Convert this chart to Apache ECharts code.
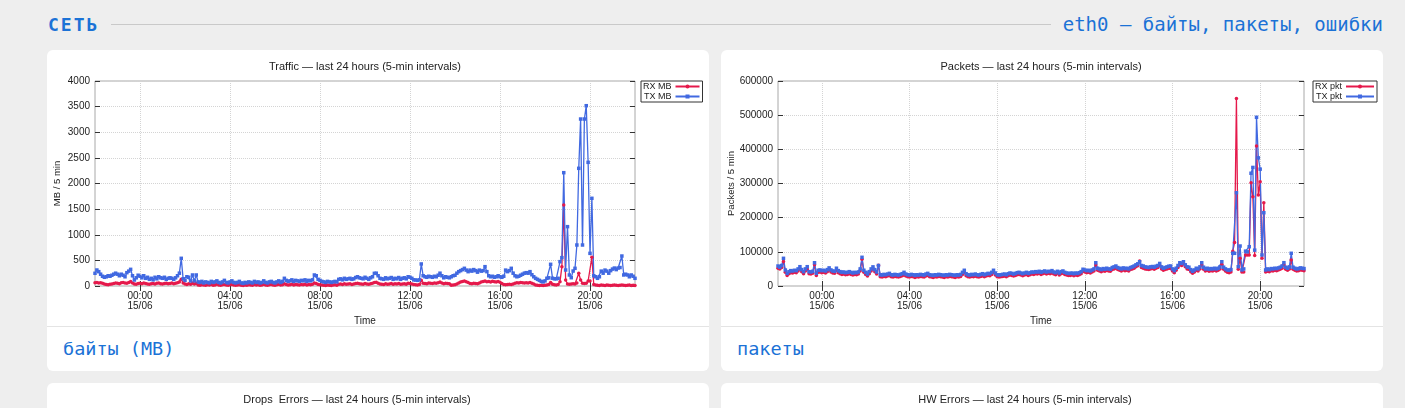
<!DOCTYPE html>
<html>
<head>
<meta charset="utf-8">
<title>Сеть — eth0</title>
<script src="https://cdn.jsdelivr.net/npm/echarts@6/dist/echarts.min.js"></script>
<style>
    body {
        margin: 0;
        background: #eeeeee;
        font-family: "DejaVu Sans Mono", monospace;
    }
    .wrap {
        padding: 0 22px 0 47px;
    }
    .head {
        height: 48px;
        display: flex;
        align-items: center;
        margin-bottom: 2px;
    }
    .head .name {
        margin-left: 1px;
        font-size: 18px;
        font-weight: bold;
        letter-spacing: 2px;
        color: #1b72d6;
    }
    .head .rule {
        flex: 1;
        height: 1px;
        background: #c9c9c9;
        margin: 0 12px 0 12px;
    }
    .head .sub {
        font-size: 19px;
        color: #1b72d6;
    }
    .row {
        display: flex;
        gap: 12px;
        margin-bottom: 12px;
    }
    .card {
        width: 662px;
        background: #fff;
        border-radius: 6px;
        overflow: hidden;
    }
    .chart {
        height: 276px;
    }
    .cap {
        border-top: 1px solid #e4e4e4;
        height: 44px;
        line-height: 44px;
        padding-left: 16px;
        font-size: 18.5px;
        color: #1b72d6;
    }
</style>
</head>
<body>
<div class="wrap">
    <div class="head">
        <span class="name">СЕТЬ</span>
        <span class="rule"></span>
        <span class="sub">eth0 — байты, пакеты, ошибки</span>
    </div>
    <div class="row">
        <div class="card">
            <div class="chart traffic-stat"></div>
            <div class="cap">байты (MB)</div>
        </div>
        <div class="card">
            <div class="chart packets-stat"></div>
            <div class="cap">пакеты</div>
        </div>
    </div>
    <div class="row">
        <div class="card">
            <div class="chart drops-stat"></div>
        </div>
        <div class="card">
            <div class="chart hw-stat"></div>
        </div>
    </div>
</div>

<script>
// 5-min samples, 14/06 22:00 -> 15/06 22:00
let startMinute = -120;
let stepMinutes = 5;

// Traffic, MB per 5 min
let rxMB = [
    65, 70, 60, 65, 55, 40, 30, 25, 35, 40,
    50, 60, 55, 45, 65, 70, 60, 55, 70, 90,
    60, 40, 35, 50, 55, 45, 60, 50, 40, 35,
    45, 50, 40, 55, 60, 45, 40, 50, 55, 45,
    50, 60, 45, 55, 65, 80, 130, 60, 40, 30,
    45, 35, 60, 40, 55, 20, 15, 25, 20, 15,
    25, 20, 30, 15, 20, 35, 20, 15, 25, 30,
    20, 15, 25, 30, 20, 15, 20, 25, 15, 10,
    20, 15, 25, 20, 15, 30, 20, 25, 15, 20,
    35, 20, 15, 25, 30, 20, 15, 25, 35, 20,
    25, 45, 30, 20, 25, 35, 20, 30, 25, 20,
    30, 25, 35, 20, 30, 25, 35, 60, 50, 30,
    25, 20, 15, 10, 20, 15, 10, 20, 25, 15,
    35, 40, 30, 45, 35, 40, 45, 30, 40, 50,
    55, 45, 40, 35, 50, 40, 35, 45, 55, 70,
    75, 55, 40, 35, 30, 45, 35, 40, 50, 35,
    45, 40, 50, 35, 40, 45, 35, 55, 50, 40,
    30, 25, 20, 30, 110, 55, 50, 45, 60, 55,
    50, 60, 55, 65, 80, 60, 45, 55, 50, 45,
    15, 20, 25, 40, 60, 80, 90, 98, 85, 70,
    50, 45, 55, 50, 45, 60, 80, 90, 98, 85,
    90, 80, 95, 85, 80, 90, 75, 50, 30, 25,
    30, 35, 30, 40, 55, 65, 60, 70, 65, 60,
    65, 60, 70, 55, 40, 20, 15, 10, 15, 10,
    15, 20, 30, 70, 35, 25, 20, 30, 85, 377,
    1580, 117, 40, 35, 40, 45, 40, 60, 247, 117,
    55, 50, 55, 98, 100, 560, 30, 20, 15, 10,
    20, 15, 10, 20, 15, 10, 15, 20, 15, 10,
    15, 20, 15, 10, 15, 20, 10, 15, 10
];
let txMB = [
    248, 312, 280, 230, 190, 170, 180, 200, 190, 210,
    230, 250, 230, 200, 230, 210, 180, 260, 290, 325,
    200, 117, 160, 210, 190, 160, 200, 150, 170, 130,
    150, 120, 170, 140, 180, 160, 150, 170, 130, 150,
    160, 150, 130, 160, 200, 250, 540, 140, 110, 180,
    170, 100, 215, 100, 215, 80, 70, 90, 60, 80,
    70, 60, 90, 70, 80, 100, 70, 60, 80, 110,
    70, 60, 80, 100, 70, 60, 70, 90, 60, 50,
    70, 60, 80, 70, 60, 90, 70, 80, 60, 70,
    100, 70, 60, 80, 90, 70, 60, 80, 100, 70,
    90, 150, 110, 90, 100, 120, 90, 110, 100, 90,
    110, 100, 120, 90, 110, 100, 120, 215, 200, 130,
    110, 90, 80, 70, 90, 80, 70, 80, 90, 80,
    130, 140, 120, 150, 130, 140, 150, 130, 140, 165,
    180, 160, 150, 140, 170, 150, 130, 160, 180, 247,
    250, 200, 150, 140, 130, 160, 140, 150, 165, 130,
    150, 140, 165, 130, 150, 160, 140, 180, 170, 150,
    120, 117, 110, 120, 430, 200, 180, 170, 190, 180,
    170, 190, 180, 210, 250, 200, 160, 180, 170, 160,
    180, 200, 210, 250, 280, 300, 320, 345, 310, 280,
    310, 290, 320, 300, 270, 310, 290, 300, 377, 280,
    200, 180, 190, 170, 180, 200, 180, 170, 190, 310,
    280, 300, 345, 250, 200, 180, 190, 210, 230, 250,
    260, 250, 280, 220, 180, 150, 130, 110, 90, 80,
    100, 150, 160, 423, 152, 140, 140, 150, 475, 553,
    2211, 312, 1158, 215, 162, 292, 345, 800, 2296, 3258,
    800, 3258, 3518, 2413, 637, 1711, 200, 180, 150, 180,
    290, 250, 310, 290, 250, 300, 330, 350, 320, 350,
    360, 585, 215, 230, 215, 180, 215, 190, 150
];

// Packets per 5 min
let rxPkt = [
    52000, 50000, 54000, 72000, 40000, 31000, 36000, 39000, 38000, 40000,
    39000, 44000, 50000, 42000, 36000, 44000, 50000, 36000, 35000, 37000,
    62000, 31000, 40000, 41000, 39000, 40000, 38000, 42000, 47000, 41000,
    38000, 37000, 46000, 39000, 36000, 34000, 35000, 33000, 34000, 36000,
    34000, 32000, 34000, 33000, 35000, 44000, 78000, 40000, 34000, 29000,
    36000, 44000, 50000, 42000, 35000, 61000, 27000, 26000, 28000, 27000,
    29000, 31000, 27000, 26000, 28000, 27000, 26000, 28000, 30000, 34000,
    29000, 27000, 26000, 28000, 27000, 25000, 27000, 26000, 28000, 27000,
    26000, 29000, 31000, 27000, 26000, 25000, 27000, 26000, 28000, 27000,
    26000, 25000, 27000, 26000, 28000, 27000, 26000, 25000, 27000, 26000,
    28000, 34000, 40000, 30000, 27000, 26000, 28000, 27000, 29000, 27000,
    26000, 28000, 30000, 27000, 29000, 31000, 30000, 34000, 40000, 32000,
    27000, 26000, 27000, 28000, 29000, 27000, 30000, 32000, 31000, 29000,
    31000, 33000, 34000, 32000, 30000, 32000, 34000, 31000, 33000, 35000,
    34000, 36000, 35000, 37000, 34000, 36000, 38000, 35000, 37000, 36000,
    39000, 35000, 33000, 37000, 32000, 36000, 38000, 34000, 32000, 31000,
    31000, 32000, 30000, 32000, 31000, 33000, 36000, 43000, 41000, 39000,
    40000, 38000, 41000, 44000, 62000, 46000, 44000, 42000, 45000, 43000,
    46000, 44000, 43000, 48000, 50000, 52000, 48000, 46000, 44000, 47000,
    45000, 46000, 44000, 48000, 50000, 52000, 56000, 59000, 73000, 54000,
    52000, 50000, 49000, 48000, 50000, 51000, 49000, 52000, 54000, 60000,
    50000, 46000, 48000, 50000, 52000, 52000, 44000, 39000, 46000, 54000,
    62000, 60000, 65000, 56000, 50000, 49000, 42000, 37000, 41000, 46000,
    44000, 50000, 62000, 49000, 44000, 46000, 43000, 45000, 44000, 46000,
    44000, 46000, 50000, 64000, 49000, 44000, 40000, 39000, 41000, 102000,
    127000, 549000, 49000, 81000, 41000, 41000, 91000, 91000, 91000, 302000,
    261000, 89000, 410000, 266000, 305000, 81000, 244000, 41000, 43000, 42000,
    45000, 44000, 46000, 45000, 47000, 49000, 52000, 62000, 49000, 46000,
    50000, 76000, 49000, 46000, 44000, 45000, 47000, 46000, 45000
];
let txPkt = [
    58500, 55000, 60000, 81000, 46800, 37000, 42000, 45000, 44000, 46000,
    45000, 50000, 56500, 48000, 42000, 50000, 56500, 42000, 41000, 43000,
    68000, 37000, 46000, 47000, 45000, 46000, 44000, 48000, 53000, 47000,
    44000, 43000, 52000, 45000, 42000, 40000, 41000, 39000, 40000, 42000,
    40000, 38000, 40000, 39000, 41000, 50000, 84000, 46000, 40000, 35000,
    42000, 50000, 56000, 48000, 41000, 60000, 33000, 32000, 34000, 33000,
    35000, 37000, 33000, 32000, 34000, 33000, 32000, 34000, 36000, 40000,
    35000, 33000, 32000, 34000, 33000, 31000, 33000, 32000, 34000, 33000,
    32000, 35000, 37000, 33000, 32000, 31000, 33000, 32000, 34000, 33000,
    32000, 31000, 33000, 32000, 34000, 33000, 32000, 31000, 33000, 32000,
    34000, 40000, 46000, 36000, 33000, 32000, 34000, 33000, 35000, 33000,
    32000, 34000, 36000, 33000, 35000, 37000, 36000, 40000, 46000, 38000,
    33000, 32000, 33000, 34000, 35000, 33000, 36000, 38000, 37000, 35000,
    37000, 39000, 40000, 38000, 36000, 38000, 40000, 37000, 39000, 41000,
    40000, 42000, 41000, 43000, 40000, 42000, 44000, 41000, 43000, 42000,
    45000, 41000, 39000, 43000, 38000, 42000, 44000, 40000, 38000, 37000,
    37000, 38000, 36000, 38000, 37000, 39000, 42000, 49000, 47000, 45000,
    46000, 44000, 47000, 50000, 68000, 52000, 50000, 48000, 51000, 49000,
    52000, 50000, 49000, 54000, 56000, 58500, 54000, 52000, 50000, 53000,
    51000, 52000, 50000, 54000, 56000, 58500, 62000, 65000, 71000, 60000,
    58500, 56000, 55000, 54000, 56000, 57000, 55000, 58000, 60000, 66000,
    56000, 52000, 54000, 56000, 58000, 58500, 50000, 45000, 52000, 60000,
    68000, 66000, 71000, 62000, 56000, 55000, 48000, 43000, 47000, 52000,
    50000, 56000, 68000, 55000, 50000, 52000, 49000, 51000, 50000, 52000,
    50000, 52000, 56000, 71000, 55000, 50000, 47000, 46000, 48000, 95700,
    95700, 273000, 56500, 117000, 47000, 50000, 102000, 100000, 115000, 330000,
    347000, 105000, 493700, 375000, 342000, 90700, 214500, 47000, 50000, 48000,
    51000, 50000, 52000, 51000, 53000, 55000, 58500, 68200, 55000, 52000,
    56000, 95700, 55000, 52000, 50000, 51000, 53000, 52000, 51000
];

let rxColor = '#e5194b';
let txColor = '#4169e1';

function pad2(n) {
    return (n < 10 ? '0' : '') + n;
}

// category labels "dd/06 hh:mm"
let times = [];
for (let i = 0; i < txMB.length; i++) {
    let m = startMinute + i * stepMinutes;
    let day = m < 0 ? 14 : 15;
    let mm = ((m % 1440) + 1440) % 1440;
    times.push(pad2(day) + '/06 ' + pad2(Math.floor(mm / 60)) + ':' + pad2(mm % 60));
}

// major ticks every 4 hours, on the hour
function isMajor(idx) {
    let m = startMinute + idx * stepMinutes;
    return ((m % 240) + 240) % 240 === 0;
}

function buildOption(cfg) {
    let font = 'Liberation Sans';
    let tickStyle = {lineStyle: {color: '#333', width: 1}};

    return {
        animation: false,
        textStyle: {fontFamily: font},
        title: {
            text: cfg.title,
            left: cfg.titleX,
            top: 6,
            textAlign: 'center',
            textStyle: {fontSize: 11, fontWeight: 'normal', color: '#222', fontFamily: font}
        },
        legend: {
            orient: 'vertical',
            left: cfg.legendX,
            top: 31,
            align: 'right',
            itemWidth: cfg.legendItemWidth,
            itemHeight: 5,
            itemGap: 1,
            padding: [1, 2, 1, 2],
            borderColor: '#333',
            borderWidth: 1,
            borderRadius: 0,
            textStyle: {fontSize: 9, color: '#222', padding: [0, -1, 0, 0]},
            data: [cfg.rxName, cfg.txName]
        },
        grid: {
            left: cfg.gridLeft,
            right: cfg.gridRight,
            top: 31,
            bottom: 40,
            containLabel: false,
            outerBoundsMode: 'none',
            show: true,
            borderColor: '#a8a8a8',
            borderWidth: 1
        },
        xAxis: [{
            type: 'category',
            data: times,
            boundaryGap: false,
            name: 'Time',
            nameLocation: 'middle',
            nameGap: 30,
            nameMoveOverlap: false,
            nameTextStyle: {fontSize: 10, color: '#222'},
            axisLine: {show: false},
            axisTick: Object.assign({inside: true, length: 5, interval: isMajor}, tickStyle),
            axisLabel: {
                interval: isMajor,
                margin: 5,
                fontSize: 10,
                lineHeight: 10,
                color: '#222',
                formatter: function (v) {
                    let p = v.split(' ');
                    return p[1] + '\n' + '15/06';
                }
            },
            splitLine: {show: true, interval: isMajor, lineStyle: {color: '#d4d4d4', type: 'dotted'}}
        }, {
            type: 'category',
            data: times,
            position: 'top',
            boundaryGap: false,
            axisLine: {show: false},
            axisTick: Object.assign({inside: true, length: 5, interval: isMajor}, tickStyle),
            axisLabel: {show: false},
            splitLine: {show: false}
        }],
        yAxis: [{
            type: 'value',
            min: 0,
            max: cfg.yMax,
            interval: cfg.yStep,
            name: cfg.yName,
            nameLocation: 'middle',
            nameGap: cfg.yNameGap,
            nameMoveOverlap: false,
            nameTextStyle: {fontSize: 9.5, color: '#222'},
            axisLine: {show: false},
            axisTick: Object.assign({show: true, inside: true, length: 5}, tickStyle),
            axisLabel: {
                fontSize: 10,
                margin: 5,
                color: '#222',
                formatter: function (v) {
                    return String(v);
                }
            },
            splitLine: {show: true, lineStyle: {color: '#d4d4d4', type: 'dotted'}}
        }, {
            type: 'value',
            min: 0,
            max: cfg.yMax,
            interval: cfg.yStep,
            position: 'right',
            axisLine: {show: false},
            axisTick: Object.assign({show: true, inside: true, length: 5}, tickStyle),
            axisLabel: {show: false},
            splitLine: {show: false}
        }],
        series: [{
            name: cfg.rxName,
            type: 'line',
            data: cfg.rx,
            symbol: 'circle',
            symbolSize: 3.5,
            showAllSymbol: true,
            itemStyle: {color: rxColor},
            lineStyle: {color: rxColor, width: 1.3}
        }, {
            name: cfg.txName,
            type: 'line',
            data: cfg.tx,
            symbol: 'rect',
            symbolSize: 3.5,
            showAllSymbol: true,
            itemStyle: {color: txColor},
            lineStyle: {color: txColor, width: 1.3}
        }]
    };
}

function titleOnly(text, x) {
    return {
        animation: false,
        title: {
            text: text,
            left: x,
            top: 6,
            textAlign: 'center',
            textStyle: {fontSize: 11, fontWeight: 'normal', color: '#222', fontFamily: 'Liberation Sans'}
        }
    };
}

let trafficChart = echarts.init(document.getElementsByClassName('traffic-stat')[0]);
let packetsChart = echarts.init(document.getElementsByClassName('packets-stat')[0]);
let dropsChart = echarts.init(document.getElementsByClassName('drops-stat')[0]);
let hwChart = echarts.init(document.getElementsByClassName('hw-stat')[0]);

trafficChart.setOption(buildOption({
    title: 'Traffic — last 24 hours (5-min intervals)',
    titleX: 313,
    legendX: 594,
    legendItemWidth: 24,
    gridLeft: 48,
    gridRight: 74,
    yMax: 4000,
    yStep: 500,
    yName: 'MB / 5 min',
    yNameGap: 33,
    rxName: 'RX MB',
    txName: 'TX MB',
    rx: rxMB,
    tx: txMB
}));

packetsChart.setOption(buildOption({
    title: 'Packets — last 24 hours (5-min intervals)',
    titleX: 315,
    legendX: 592,
    legendItemWidth: 28,
    gridLeft: 57,
    gridRight: 79,
    yMax: 600000,
    yStep: 100000,
    yName: 'Packets / 5 min',
    yNameGap: 42,
    rxName: 'RX pkt',
    txName: 'TX pkt',
    rx: rxPkt,
    tx: txPkt
}));

dropsChart.setOption(titleOnly('Drops  Errors — last 24 hours (5-min intervals)', 305));
hwChart.setOption(titleOnly('HW Errors — last 24 hours (5-min intervals)', 299));
</script>
</body>
</html>
